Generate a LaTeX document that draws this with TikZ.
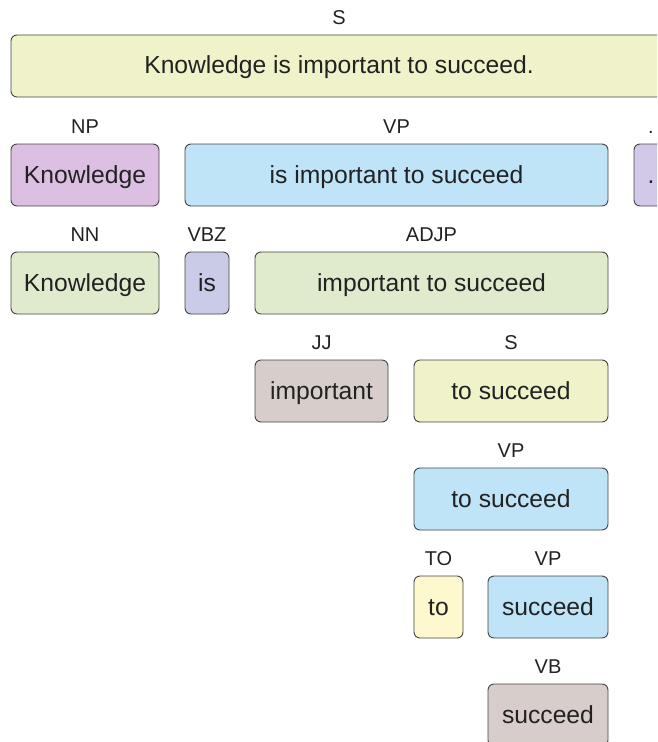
\documentclass[tikz,border=0pt]{standalone}
\usepackage{fontspec}
\setmainfont{Liberation Sans}
\usetikzlibrary{positioning}
\definecolor{sCol}{HTML}{F0F3C9}
\definecolor{npCol}{HTML}{DCBFE3}
\definecolor{vpCol}{HTML}{BFE3F7}
\definecolor{punctCol}{HTML}{D2C9E8}
\definecolor{nnCol}{HTML}{DFEBCC}
\definecolor{vbzCol}{HTML}{C9CBE7}
\definecolor{jjCol}{HTML}{D7CDCB}
\definecolor{toCol}{HTML}{FDF8CE}
\definecolor{edgeCol}{HTML}{444444}
\definecolor{inkCol}{HTML}{222222}
\tikzset{x=0.75pt, y=-0.75pt,
phrase/.style={ % Sets the properties for each box
draw=edgeCol,
line width=0.7pt,
rounded corners=4.5pt,
minimum height=46.5pt,
inner sep=0pt,
text height=13pt, % Centre the words on their capitals
text depth=1pt,
text=inkCol,
font=\fontsize{18.5}{22}\selectfont},
every label/.style={ % Tag above each box
inner sep=0pt,
text=inkCol,
font=\fontsize{15}{18}\selectfont},
label distance=7.2pt}

\begin{document}
\begin{tikzpicture}
\useasboundingbox (0,0) rectangle (657,742);
\clip (0,0) rectangle (657,742);
\node[phrase, fill=sCol, minimum width=492pt, label=above:S] (s0) at (339,66) {Knowledge is important to succeed.};
\node[phrase, fill=npCol, minimum width=111pt, label=above:NP] (np) at (85,175) {Knowledge};
\node[phrase, fill=vpCol, minimum width=317.25pt, label=above:VP] (vp0) at (396.5,175) {is important to succeed};
\node[phrase, fill=punctCol, minimum width=25.5pt, label=above:.] (punct) at (651,175) {.};
\node[phrase, fill=nnCol, minimum width=111pt, label=above:NN] (nn) at (85,283) {Knowledge};
\node[phrase, fill=vbzCol, minimum width=33pt, label=above:VBZ] (vbz) at (207,283) {is};
\node[phrase, fill=nnCol, minimum width=264.75pt, label=above:ADJP] (adjp) at (431.5,283) {important to succeed};
\node[phrase, fill=jjCol, minimum width=99.75pt, label=above:JJ] (jj) at (321.5,391) {important};
\node[phrase, fill=sCol, minimum width=145.5pt, label=above:S] (s1) at (511,391) {to succeed};
\node[phrase, fill=vpCol, minimum width=145.5pt, label=above:VP] (vp1) at (511,499) {to succeed};
\node[phrase, fill=toCol, minimum width=36.75pt, label=above:TO] (to) at (438.5,607) {to};
\node[phrase, fill=vpCol, minimum width=90pt, label=above:VP] (vp2) at (548,607) {succeed};
\node[phrase, fill=jjCol, minimum width=90pt, label=above:VB] (vb) at (548,715) {succeed};
\end{tikzpicture}
\end{document}
